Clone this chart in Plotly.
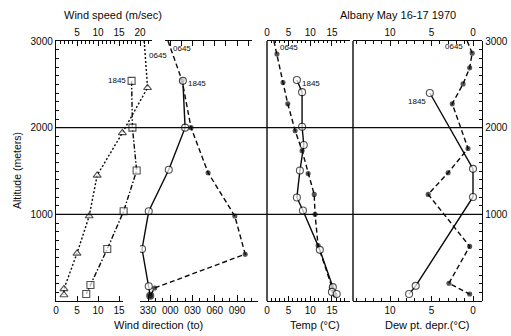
import plotly.graph_objects as go

# ---------------- data ----------------
alt_ticks = [1000, 2000, 3000]
speed_bottom_ticks = [0, 5, 10, 15]
speed_top_ticks = [5, 10, 15, 20]
dir_ticks = [330, 360, 390, 420, 450]
dir_labels = ["330", "000", "030", "060", "090"]
temp_ticks = [0, 5, 10, 15]
dew_ticks = [10, 5, 0]

# wind speed (m/s)
ws_0645_alt = [3000, 2460, 1940, 1450, 980, 550, 140, 70]
ws_0645 = [21.0, 21.8, 15.8, 9.8, 7.9, 5.0, 1.9, 1.9]
ws_1845_alt = [2540, 2000, 1505, 1035, 600, 185, 80]
ws_1845 = [18.0, 18.2, 19.2, 16.1, 12.2, 8.2, 7.2]

# wind direction (deg, 360 = 000, 450 = 090)
wd_0645_alt = [3000, 2540, 2000, 1480, 980, 540, 150, 60]
wd_0645 = [357, 376, 388, 411, 447, 461, 339, 333]
wd_1845_alt = [2540, 2000, 1515, 1035, 600, 170, 60]
wd_1845 = [377, 380, 358, 331, 322, 331, 333]

# temperature (C)
temp_0645_alt = [3000, 2850, 2520, 2275, 1965, 1735, 1470, 1230, 1000, 640, 160, 70]
temp_0645 = [1.6, 2.3, 3.7, 4.8, 6.5, 8.1, 9.5, 10.9, 11.1, 11.8, 15.0, 15.7]
temp_1845_alt = [2550, 2410, 2010, 1800, 1505, 1195, 1045, 590, 160, 105, 80]
temp_1845 = [6.9, 8.1, 8.1, 8.5, 7.6, 6.9, 8.3, 12.2, 15.2, 15.0, 16.1]

# dew point depression (C)
dew_0645_alt = [3000, 2860, 2690, 2505, 2275, 1760, 1480, 1230, 630, 205, 80]
dew_0645 = [0.7, 0.1, 0.4, 1.2, 2.5, 0.6, 3.0, 5.4, 0.4, 2.9, 0.4]
dew_1845_alt = [2400, 1525, 1200, 175, 80]
dew_1845 = [5.2, 0.0, 0.0, 6.9, 7.7]

# ---------------- layout geometry ----------------
W, H = 511, 336
ML, MR, MT, MB = 56, 29, 41, 35
PW = W - ML - MR
PH = H - MT - MB


def fx(px):
    return (px - ML) / PW


def fy(py):
    return (H - MB - py) / PH


FONT = "Liberation Sans, Arial, sans-serif"
INK = "#0a0a0a"
LW = 1.4

fig = go.Figure()


def add(x, y, xa, dash, kind, first_marker=True, last_filled=False):
    n = len(x)
    if kind == "dot":
        sym = ["circle"] * n
        col = [INK] * n
        size = [4] * n
    else:
        sym = [kind] * n
        col = ["white"] * n
        size = [7] * n
    if not first_marker:
        size[0] = 0
    if last_filled:
        sym[-1] = "circle"
        col[-1] = INK
        size[-1] = 7
    fig.add_trace(go.Scatter(
        x=x, y=y, xaxis=xa, yaxis="y", mode="lines+markers",
        line=dict(color=INK, width=LW, dash=dash),
        marker=dict(symbol=sym, size=size, color=col, line=dict(color=INK, width=1.1)),
        showlegend=False, hoverinfo="skip"))


add(ws_0645, ws_0645_alt, "x2", "2px,2px", "triangle-up", first_marker=False)
add(ws_1845, ws_1845_alt, "x2", "5px,2px,1.5px,2px", "square")
add(wd_0645, wd_0645_alt, "x3", "5px,3px", "dot", first_marker=False)
add(wd_1845, wd_1845_alt, "x3", "solid", "circle", last_filled=True)
add(temp_0645, temp_0645_alt, "x5", "5px,3px", "dot", first_marker=False)
add(temp_1845, temp_1845_alt, "x5", "solid", "circle")
add(dew_0645, dew_0645_alt, "x7", "5px,3px", "dot", first_marker=False)
add(dew_1845, dew_1845_alt, "x7", "solid", "circle")

# empty traces so every axis is drawn
for xa in ["x", "x4", "x6", "x8"]:
    fig.add_trace(go.Scatter(x=[None], y=[None], xaxis=xa, yaxis="y",
                             showlegend=False, hoverinfo="skip"))
fig.add_trace(go.Scatter(x=[None], y=[None], xaxis="x7", yaxis="y2",
                         showlegend=False, hoverinfo="skip"))

tickfont = dict(family=FONT, size=10, color=INK)


def xax(dom, rng, side, tickvals=None, ticktext=None, ticklen=5, minor=None,
        labels=True, dtick=None):
    d = dict(domain=dom, range=rng, anchor="y", side=side, showline=True,
             linecolor=INK, linewidth=LW, ticks="inside", ticklen=ticklen,
             tickwidth=1.1, tickcolor=INK, showgrid=False, zeroline=False,
             showticklabels=labels, tickfont=tickfont, fixedrange=True,
             automargin=False)
    if tickvals is not None:
        d["tickmode"] = "array"
        d["tickvals"] = tickvals
        if ticktext is not None:
            d["ticktext"] = ticktext
    elif dtick is not None:
        d["tickmode"] = "linear"
        d["tick0"] = 0
        d["dtick"] = dtick
    if minor:
        d["minor"] = dict(dtick=minor[0], tick0=0, ticklen=minor[1], ticks="inside",
                          tickcolor=INK, tickwidth=1, showgrid=False)
    return d


ws_px = 4.2
dir_px = 0.742
t_px = 4.33
dew_px = 8.3

layout_axes = dict(
    xaxis=xax([fx(56), fx(123)], [0, 67 / ws_px], "bottom", speed_bottom_ticks),
    xaxis2=xax([fx(56), fx(152)], [0, 96 / ws_px], "top", speed_top_ticks,
               ticklen=5, minor=(1, 3)),
    xaxis3=xax([fx(140), fx(258)], [330 - 8 / dir_px, 330 + 110 / dir_px], "bottom",
               dir_ticks, dir_labels, ticklen=6, minor=(10, 3)),
    xaxis4=xax([fx(165), fx(252)], [330 + 17 / dir_px, 330 + 104 / dir_px], "top",
               labels=False, dtick=15, ticklen=5),
    xaxis5=xax([fx(267), fx(350)], [0, 83 / t_px], "bottom", temp_ticks, minor=(1, 3)),
    xaxis6=xax([fx(267), fx(350)], [0, 83 / t_px], "top", temp_ticks, minor=(1, 2)),
    xaxis7=xax([fx(353), 1], [(473 - 353) / dew_px, (473 - 482) / dew_px], "bottom",
               dew_ticks, minor=(1, 3)),
    xaxis8=xax([fx(353), 1], [(473 - 353) / dew_px, (473 - 482) / dew_px], "top",
               dew_ticks, minor=(1, 3)),
)


def yax(side, anchor):
    return dict(domain=[0, 1], range=[0, 3000], anchor=anchor,
                side=side, showline=True, linecolor=INK, linewidth=LW,
                ticks="inside", ticklen=5, tickwidth=1.1, tickcolor=INK,
                tickmode="array", tickvals=alt_ticks, showgrid=False, zeroline=False,
                tickfont=tickfont, fixedrange=True, automargin=False,
                minor=dict(dtick=100, tick0=0, ticklen=3, ticks="inside",
                           tickcolor=INK, tickwidth=1, showgrid=False))


shapes = []
for a in alt_ticks[:2]:
    shapes.append(dict(type="line", xref="paper", yref="y", x0=0, x1=1, y0=a, y1=a,
                       line=dict(color=INK, width=LW)))
for px in [267, 353]:
    shapes.append(dict(type="line", xref="paper", yref="paper", x0=fx(px), x1=fx(px),
                       y0=0, y1=1, line=dict(color=INK, width=LW)))

annotations = []


def txt(text, px, py, size=11, angle=0):
    annotations.append(dict(text=text, xref="paper", yref="paper", x=fx(px), y=fy(py),
                            showarrow=False, xanchor="center", yanchor="middle",
                            textangle=angle,
                            font=dict(family=FONT, size=size, color=INK)))


txt("Wind speed (m/sec)", 113, 15)
txt("Albany May 16-17 1970", 398, 15)
txt("Wind direction (to)", 158, 325)
txt("Temp (°C)", 315, 325)
txt("Dew pt. depr.(°C)", 427, 325)
txt("Altitude (meters)", 17, 171, size=10.5, angle=-90)


def lab(text, xa, x, y, xanchor, xshift, yshift):
    annotations.append(dict(text=text, xref=xa, yref="y", x=x, y=y, showarrow=False,
                            xanchor=xanchor, yanchor="middle", xshift=xshift,
                            yshift=yshift,
                            font=dict(family=FONT, size=8, color=INK)))


lab("0645", "x2", ws_0645[0], ws_0645_alt[0], "left", 3, -14)
lab("1845", "x2", ws_1845[0], ws_1845_alt[0], "right", -4, 0)
lab("0645", "x3", wd_0645[0], wd_0645_alt[0], "left", 3, -7)
lab("1845", "x3", wd_1845[0], wd_1845_alt[0], "left", 3, -3)
lab("0645", "x5", temp_0645[0], temp_0645_alt[0], "left", 4, -6)
lab("1845", "x5", temp_1845[0], temp_1845_alt[0], "left", 3, -3)
lab("0645", "x7", dew_0645[0], dew_0645_alt[0], "right", -2, -5)
lab("1845", "x7", dew_1845[0], dew_1845_alt[0], "right", -2, -8)

fig.update_layout(
    width=W, height=H,
    margin=dict(l=ML, r=MR, t=MT, b=MB, pad=0, autoexpand=False),
    paper_bgcolor="white", plot_bgcolor="rgba(0,0,0,0)",
    showlegend=False,
    yaxis=yax("left", "x"),
    yaxis2=yax("right", "x7"),
    shapes=shapes, annotations=annotations,
    **layout_axes,
)

fig.write_html("out.html", config=dict(displayModeBar=False),
               post_script="document.body.style.margin='0';document.body.style.overflow='hidden';")
